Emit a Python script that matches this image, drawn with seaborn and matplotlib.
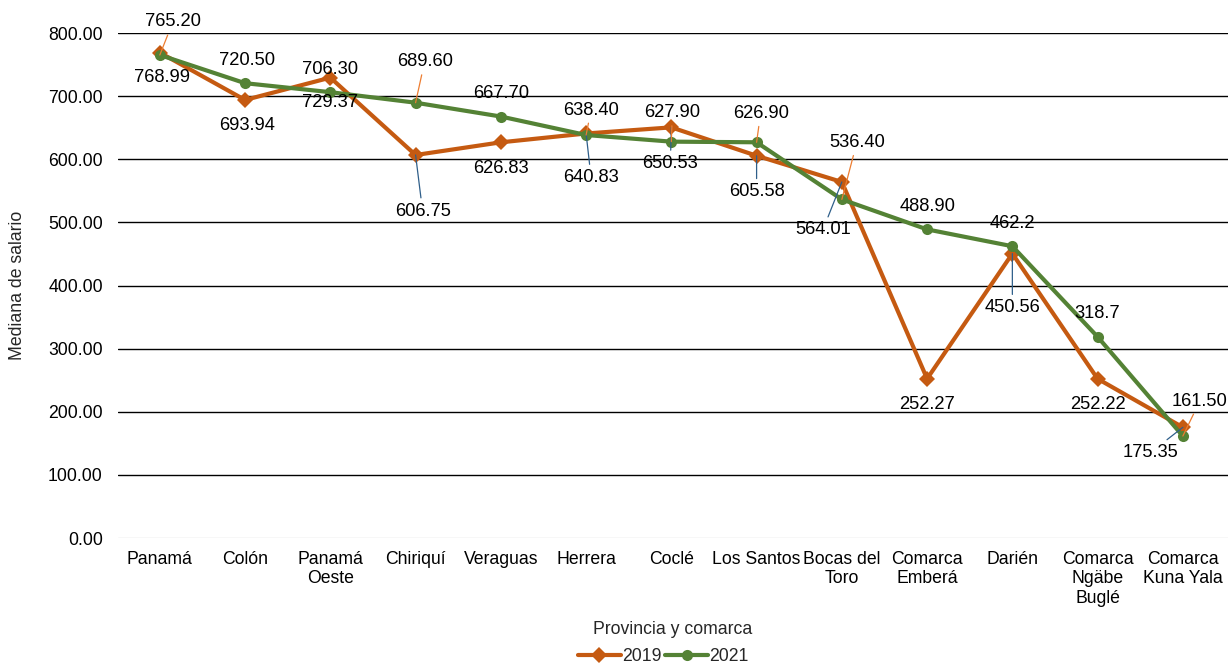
import pandas as pd
import matplotlib
matplotlib.use("Agg")
import matplotlib.pyplot as plt
import seaborn as sns

# data
categories = ["Panamá", "Colón", "Panamá\nOeste", "Chiriquí", "Veraguas", "Herrera",
              "Coclé", "Los Santos", "Bocas del\nToro", "Comarca\nEmberá", "Darién",
              "Comarca\nNgäbe\nBuglé", "Comarca\nKuna Yala"]
values_2019 = [768.99, 693.94, 729.37, 606.75, 626.83, 640.83, 650.53, 605.58,
               564.01, 252.27, 450.56, 252.22, 175.35]
values_2021 = [765.20, 720.50, 706.30, 689.60, 667.70, 638.40, 627.90, 626.90,
               536.40, 488.90, 462.2, 318.7, 161.50]
# labels as printed in the chart (two 2021 values shown with one decimal)
labels_2019 = [f"{v:.2f}" for v in values_2019]
labels_2021 = [f"{v:.2f}" for v in values_2021]
labels_2021[10] = "462.2"
labels_2021[11] = "318.7"

# label offsets in pixels (dx, dy up) and whether a leader line is drawn
off_2019 = [(2, -25), (2, -26), (0, -25), (7, -56), (0, -26), (5, -44), (-1, -36),
            (0, -36), (-19, -48), (0, -26), (0, -54), (0, -26), (-32, -25)]
lead_2019 = [0, 0, 0, 1, 0, 1, 1, 1, 1, 0, 1, 0, 1]
off_2021 = [(13, 33), (2, 23), (0, 23), (9, 41), (0, 23), (5, 25), (1, 29),
            (4, 29), (15, 57), (0, 23), (0, 23), (0, 23), (17, 35)]
lead_2021 = [1, 0, 0, 1, 0, 1, 1, 1, 1, 0, 0, 0, 1]

c2019 = "#C55A11"
c2021 = "#548235"
fs = 13.2

df = pd.DataFrame({
    "Provincia": categories * 2,
    "Valor": values_2019 + values_2021,
    "Año": ["2019"] * len(categories) + ["2021"] * len(categories),
})

sns.set_style("white")
plt.rcParams["font.family"] = ["Liberation Sans", "DejaVu Sans"]

fig = plt.figure(figsize=(12.31, 6.67), dpi=100)
ax = fig.add_axes([0.0959, 0.1934, 0.9017, 0.7571])

for y in range(100, 900, 100):
    ax.axhline(y, color="black", lw=1.0, zorder=0)
ax.axhline(0, color="#D9D9D9", lw=1.0, zorder=0)

sns.lineplot(data=df, x="Provincia", y="Valor", hue="Año", style="Año",
             palette={"2019": c2019, "2021": c2021},
             markers={"2019": "D", "2021": "o"}, dashes=False,
             markersize=8, markeredgewidth=0, linewidth=3, sort=False, ax=ax)

ax.set_ylim(0, 800)
ax.set_xlim(-0.49, 12.53)
ax.set_yticks(range(0, 900, 100))
ax.set_yticklabels([f"{v:.2f}" for v in range(0, 900, 100)])
for s in ax.spines.values():
    s.set_visible(False)
ax.tick_params(axis="both", length=0, labelsize=fs - 0.5, colors="#000000")
ax.tick_params(axis="x", pad=9)
ax.tick_params(axis="y", pad=11)
ax.set_ylabel("Mediana de salario", fontsize=fs - 0.5, labelpad=16)
ax.set_xlabel("Provincia y comarca", fontsize=fs - 0.5, labelpad=10)


def put_labels(vals, labs, offs, leads, lead_color):
    for i, (v, t, (dx, dy), ld) in enumerate(zip(vals, labs, offs, leads)):
        kw = {}
        if ld:
            kw["arrowprops"] = dict(arrowstyle="-", color=lead_color, lw=0.9,
                                    shrinkA=1, shrinkB=0)
        ax.annotate(t, xy=(i, v), xytext=(dx, dy), textcoords="offset pixels",
                    ha="center", va="center", fontsize=fs, color="black", **kw)


put_labels(values_2019, labels_2019, off_2019, lead_2019, "#2F5F8A")
put_labels(values_2021, labels_2021, off_2021, lead_2021, "#ED7D31")

handles, labs = ax.get_legend_handles_labels()
ax.legend_.remove()
fig.legend(handles, labs, loc="center", bbox_to_anchor=(0.539, 0.015), ncol=2,
           frameon=False, fontsize=fs - 0.5, handlelength=2.4, columnspacing=0.2,
           handletextpad=0.1)

fig.savefig("out.png", dpi=100)
